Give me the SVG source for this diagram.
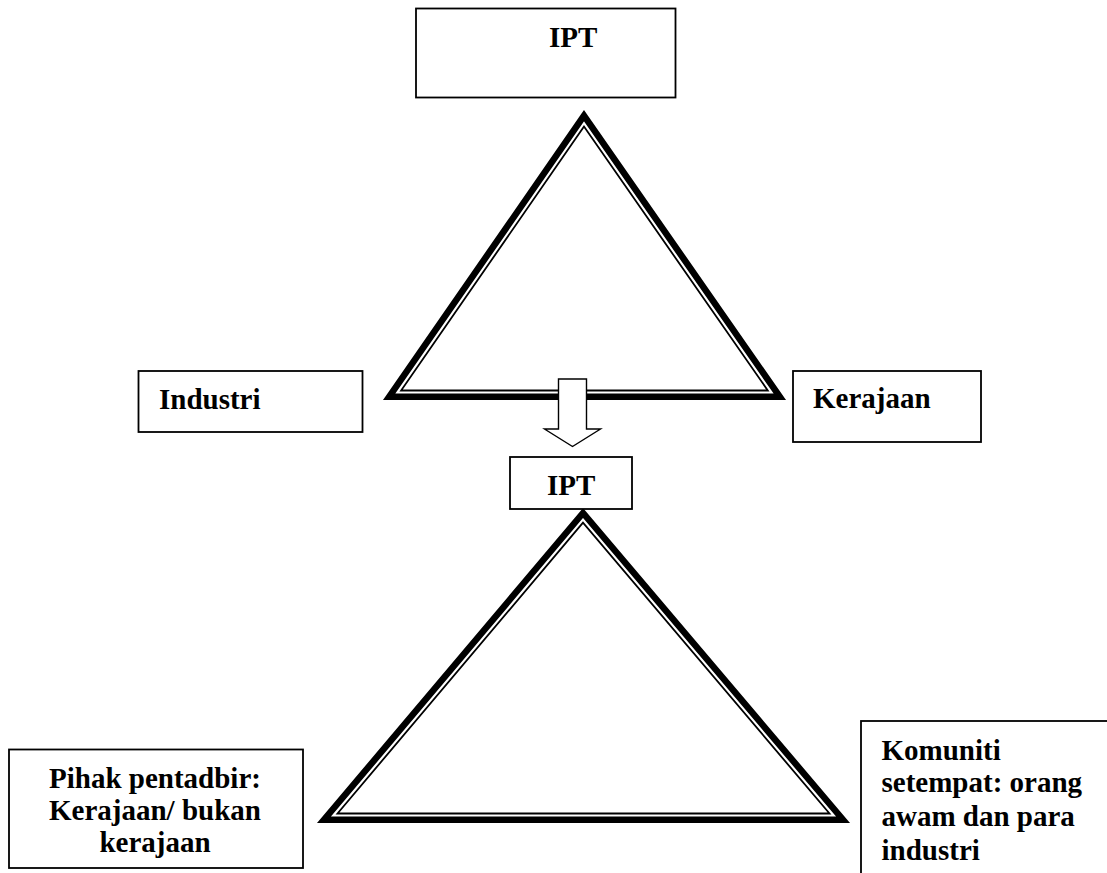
<svg xmlns="http://www.w3.org/2000/svg" width="1107" height="873" viewBox="0 0 1107 873">
<style>
.box{fill:#fff;stroke:#000;stroke-width:1.8}
.t{font-family:"Liberation Serif","Times New Roman",serif;font-weight:bold;font-size:29px;fill:#000}
.thick{fill:none;stroke:#000;stroke-width:6.5;stroke-linejoin:miter;stroke-miterlimit:10}
.thin{fill:none;stroke:#000;stroke-width:1.8;stroke-linejoin:miter;stroke-miterlimit:10}
</style>
<rect width="1107" height="873" fill="#fff"/>
<g id="triangle-top">
<polygon class="thick" points="584,115.7 389.2,396.75 779.8,396.75"/>
<polygon class="thin" points="584,126.6 401.1,390.5 767.8,390.5"/>
</g>
<g id="triangle-bottom">
<polygon class="thick" points="583,513 324,819.75 843,819.75"/>
<polygon class="thin" points="583,522.7 337.5,813.5 829.5,813.5"/>
</g>
<g id="connectors">
<path d="M558.5,379 H586.5 V429 H600.5 L572.5,446.5 L544.5,429 H558.5 Z" fill="#fff" stroke="#000" stroke-width="1.4" stroke-linejoin="miter"/>
</g>
<g id="ipt-top">
<rect class="box" x="416" y="8.5" width="259.5" height="89"/>
<text class="t" x="549" y="47">IPT</text>
</g>
<g id="industri">
<rect class="box" x="138.5" y="371" width="224" height="61"/>
<text class="t" x="159" y="409">Industri</text>
</g>
<g id="kerajaan">
<rect class="box" x="793" y="371" width="188" height="71"/>
<text class="t" x="813" y="408">Kerajaan</text>
</g>
<g id="ipt-bottom">
<rect class="box" x="510" y="457" width="122" height="52"/>
<text class="t" x="547" y="495">IPT</text>
</g>
<g id="pihak">
<rect class="box" x="9" y="749.5" width="294" height="118.5"/>
<text class="t" text-anchor="middle" x="155" y="788">Pihak pentadbir:</text>
<text class="t" text-anchor="middle" x="155" y="820">Kerajaan/ bukan</text>
<text class="t" text-anchor="middle" x="155" y="852">kerajaan</text>
</g>
<g id="komuniti">
<rect class="box" x="861" y="721" width="260" height="200"/>
<text class="t" x="881.5" y="760">Komuniti</text>
<text class="t" x="881.5" y="792">setempat: orang</text>
<text class="t" x="881.5" y="826">awam dan para</text>
<text class="t" x="881.5" y="860">industri</text>
</g>
</svg>
